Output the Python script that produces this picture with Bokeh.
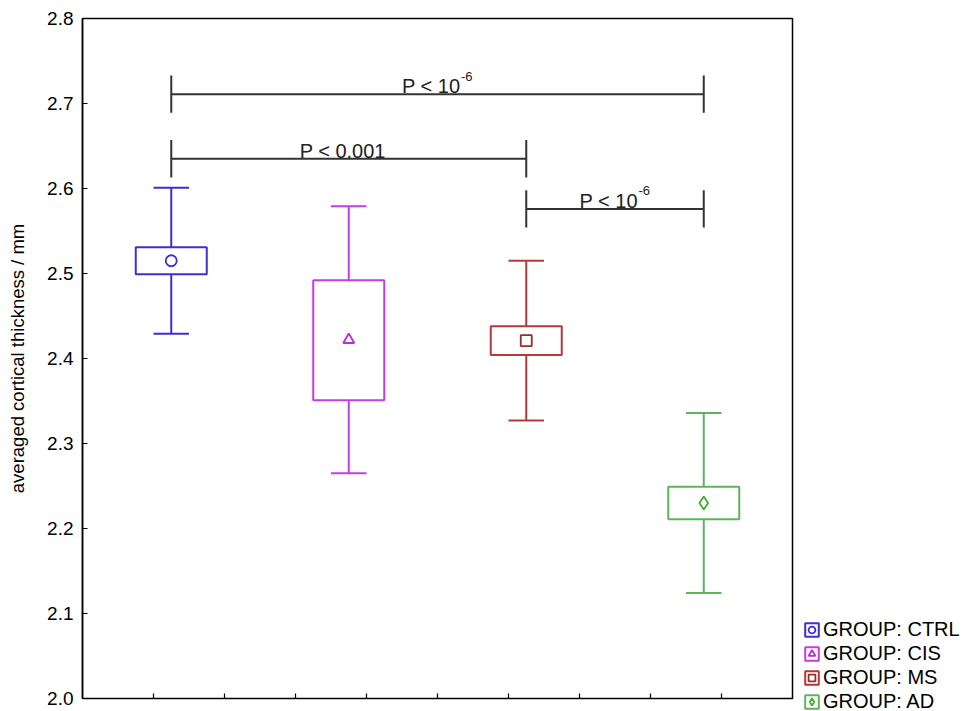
from bokeh.plotting import figure
from bokeh.models import (Legend, LegendItem, ColumnDataSource, FixedTicker, Range1d)
from bokeh.embed import file_html
from bokeh.resources import INLINE

# ---- data ----
groups = ["CTRL", "CIS", "MS", "AD"]
means = [2.515, 2.422, 2.421, 2.230]
box_hi = [2.531, 2.492, 2.438, 2.249]
box_lo = [2.499, 2.351, 2.404, 2.211]
whisk_hi = [2.601, 2.579, 2.515, 2.336]
whisk_lo = [2.429, 2.265, 2.327, 2.124]

legend_labels = ["GROUP: CTRL", "GROUP: CIS", "GROUP: MS", "GROUP: AD"]
colors = ["#3f2fd0", "#c23ee4", "#b23a3a", "#5fb35f"]
marker_colors = ["#3f2fd0", "#b52fd8", "#9c2c2c", "#3fae2a"]
markers = ["circle", "triangle", "square", "diamond"]

y_ticks = [2.0, 2.1, 2.2, 2.3, 2.4, 2.5, 2.6, 2.7, 2.8]
y_tick_labels = ["2.0", "2.1", "2.2", "2.3", "2.4", "2.5", "2.6", "2.7", "2.8"]
x_ticks = [1, 2, 3, 4, 5, 6, 7, 8, 9]

# significance brackets
br_from = ["CTRL", "CTRL", "MS"]
br_to = ["AD", "MS", "AD"]
br_y = [2.711, 2.635, 2.576]
br_text = ["P < 10", "P < 0.001", "P < 10"]
br_sup = ["-6", "", "-6"]

# ---- layout of the categorical slots on a 0..10 axis ----
X0, X1 = 0, 10
Y0, Y1 = 2.0, 2.8
FW, FH = 710, 680
slot = (X1 - X0) / len(groups)
xpos = {g: X0 + slot * (i + 0.5) for i, g in enumerate(groups)}

p = figure(frame_width=FW, frame_height=FH,
           x_range=Range1d(X0, X1), y_range=Range1d(Y0, Y1),
           output_backend="svg", toolbar_location=None,
           min_border_left=82, min_border_top=18, min_border_bottom=11,
           min_border_right=165)
p.background_fill_color = "white"
p.border_fill_color = "white"
p.outline_line_color = "black"
p.outline_line_width = 1.5
p.xgrid.visible = False
p.ygrid.visible = False
p.xaxis.visible = False

font = "Liberation Sans"

ya = p.yaxis[0]
ya.ticker = FixedTicker(ticks=y_ticks)
ya.major_label_overrides = {t: l for t, l in zip(y_ticks, y_tick_labels)}
ya.major_tick_in = 5
ya.major_tick_out = 0
ya.minor_tick_in = 0
ya.minor_tick_out = 0
ya.major_label_standoff = 9
ya.major_label_text_font = font
ya.major_label_text_font_size = "19px"
ya.major_label_text_color = "black"
ya.axis_label = "averaged cortical thickness / mm"
ya.axis_label_text_font = font
ya.axis_label_text_font_size = "18.5px"
ya.axis_label_text_font_style = "normal"
ya.axis_label_text_color = "black"
ya.axis_label_standoff = 16
ya.axis_line_width = 1.5
ya.major_tick_line_width = 1.2

# bottom tick marks (inward, no labels), 5 px long
tick_len = 5 * (Y1 - Y0) / FH
tsrc = ColumnDataSource(dict(x=x_ticks, y0=[Y0] * len(x_ticks),
                             y1=[Y0 + tick_len] * len(x_ticks)))
p.segment(x0="x", y0="y0", x1="x", y1="y1", source=tsrc, line_color="black", line_width=1.2)

items = []
for i, g in enumerate(groups):
    x = xpos[g]
    src = ColumnDataSource(dict(
        x=[x], left=[x - 0.5], right=[x + 0.5],
        cl=[x - 0.25], cr=[x + 0.25],
        mean=[means[i]], bhi=[box_hi[i]], blo=[box_lo[i]],
        whi=[whisk_hi[i]], wlo=[whisk_lo[i]]))
    c = colors[i]
    p.segment(x0="x", y0="bhi", x1="x", y1="whi", source=src, line_color=c, line_width=2)
    p.segment(x0="x", y0="blo", x1="x", y1="wlo", source=src, line_color=c, line_width=2)
    p.segment(x0="cl", y0="whi", x1="cr", y1="whi", source=src, line_color=c, line_width=2)
    p.segment(x0="cl", y0="wlo", x1="cr", y1="wlo", source=src, line_color=c, line_width=2)
    q = p.quad(left="left", right="right", top="bhi", bottom="blo", source=src,
               fill_color="white", fill_alpha=0, line_color=c, line_width=2)
    m = p.scatter(x="x", y="mean", source=src, marker=markers[i],
                  size=11 if markers[i] != "diamond" else 13,
                  fill_color="white", fill_alpha=0,
                  line_color=marker_colors[i], line_width=1.8)
    items.append(LegendItem(label=legend_labels[i], renderers=[q, m]))

# brackets
tick_half = 0.022
for a, b, yv, t, s in zip(br_from, br_to, br_y, br_text, br_sup):
    x0, x1 = xpos[a], xpos[b]
    bsrc = ColumnDataSource(dict(x0=[x0], x1=[x1], y=[yv],
                                 ylo=[yv - tick_half], yhi=[yv + tick_half],
                                 mid=[(x0 + x1) / 2], t=[t], s=[s]))
    p.segment(x0="x0", y0="y", x1="x1", y1="y", source=bsrc, line_color="#333333", line_width=2)
    p.segment(x0="x0", y0="ylo", x1="x0", y1="yhi", source=bsrc, line_color="#333333", line_width=2)
    p.segment(x0="x1", y0="ylo", x1="x1", y1="yhi", source=bsrc, line_color="#333333", line_width=2)
    if s:
        main_w = 58
        sup_w = 13
        total = main_w + sup_w
        p.text(x="mid", y="y", text="t", source=bsrc, text_align="left",
               text_baseline="alphabetic", x_offset=-total / 2, y_offset=-8,
               text_font={"value": font}, text_font_size="20px", text_color="#222222")
        p.text(x="mid", y="y", text="s", source=bsrc, text_align="left",
               text_baseline="alphabetic", x_offset=-total / 2 + main_w + 1, y_offset=-18,
               text_font={"value": font}, text_font_size="13px", text_color="#222222")
    else:
        p.text(x="mid", y="y", text="t", source=bsrc, text_align="center",
               text_baseline="alphabetic", x_offset=-6, y_offset=-8,
               text_font={"value": font}, text_font_size="20px", text_color="#222222")

legend = Legend(items=items, location=(11, -15))
legend.label_text_font = font
legend.label_text_font_size = "20px"
legend.label_text_color = "black"
legend.glyph_width = 17
legend.glyph_height = 17
legend.label_height = 17
legend.label_standoff = 3
legend.spacing = 1
legend.padding = 0
legend.margin = 0
legend.border_line_alpha = 0
legend.background_fill_alpha = 0
p.add_layout(legend, "right")

open("out.html", "w").write(file_html(p, INLINE))
